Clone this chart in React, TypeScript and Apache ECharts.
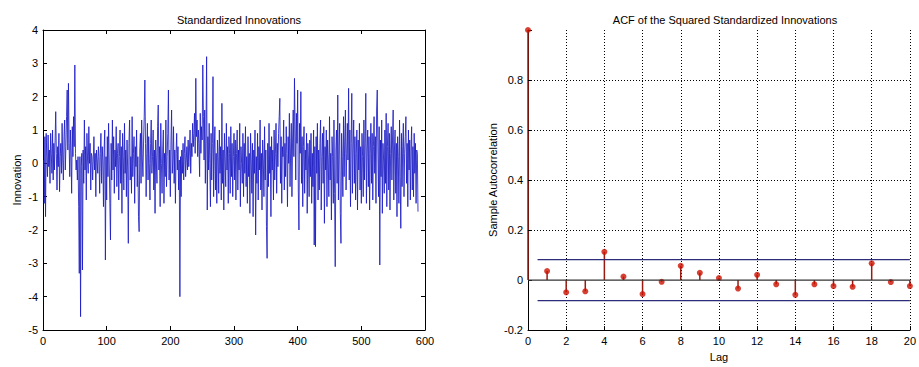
import React, { useEffect, useRef } from "react";
import * as echarts from "echarts";

// Left panel: standardized innovations
const innovations: number[] = [
  0.1, -1.2, 0.8, -1.6, 0.9, 0.2, -0.4, 0.85, -0.1, 0.4, -0.6, 0.9, 0.3, -0.3, 1.0, -0.5, 0.6, -0.2, 0.7, 1.55,
  0.3, -0.8, 0.5, -0.1, 0.9, -0.85, 0.2, 0.6, -0.3, 1.2, 0.1, -0.5, 0.8, 1.3, -0.2, 0.5, 1.4, 2.2, 0.4, 2.4,
  0.6, -0.4, 1.0, 0.3, -0.9, 1.1, 0.2, 1.4, 0.5, 2.95, 0.3, -0.2, 0.1, -0.5, 0.2, -1.3, -3.3, 0.2, -4.6, -0.1,
  0.3, -3.2, 0.4, -0.6, 1.3, -0.2, 0.5, -1.1, 0.9, 0.1, -0.3, 1.1, 0.0, 0.6, -0.8, 0.3, 0.2, -0.5, 0.1, 0.8,
  -0.2, 0.3, -1.0, 0.4, 0.1, -0.3, 0.5, 0.2, -0.9, 0.3, 0.9, -0.6, 0.5, 0.1, -1.3, 0.4, 1.0, -2.9, 0.2, -1.1,
  0.8, -0.4, 1.2, 0.1, -1.2, -2.3, 0.6, -0.5, 1.3, -0.2, 0.8, -0.9, 0.4, -0.1, 1.1, -0.7, 0.3, 0.6, -1.1, 0.2,
  1.0, -0.6, 0.5, -1.5, 0.9, 0.2, -0.8, 1.2, -0.3, 0.4, -1.0, 0.7, -0.2, -2.4, 0.6, 1.3, -0.5, 0.2, -0.9, 1.4,
  -0.4, 0.3, 0.8, -1.2, 0.5, -0.1, 1.0, -0.7, 0.2, -1.6, -2.05, 0.4, 0.9, -0.6, 1.3, 0.1, -0.4, 0.7, 1.4, 2.5,
  0.6, -1.0, 0.3, 1.2, -0.5, 0.8, 0.0, -1.1, 0.6, 1.3, -0.3, 0.2, 1.0, -0.8, 0.4, -1.5, 0.7, 0.1, -0.6, 1.1,
  1.75, -0.2, 0.5, -1.3, 1.2, 0.0, -0.9, 0.4, 1.0, -1.2, 0.3, -0.4, 1.3, -0.7, 0.2, 0.9, 2.2, -0.5, 0.4, -1.0,
  0.7, 1.6, -0.3, 0.1, 1.1, -0.6, 0.4, -1.2, 0.3, 0.9, -0.2, 0.5, -0.8, 0.1, -4.0, 0.2, -1.0, 0.4, -0.3, 0.6,
  -0.5, 0.3, 0.8, -0.4, 0.1, 0.5, -0.2, 0.7, -0.1, 0.4, 1.0, -0.3, 0.6, 0.2, 1.2, 0.5, 0.9, 1.5, 0.3, 2.55,
  0.8, 1.3, 0.2, 1.0, 0.6, -0.4, 1.5, 0.3, 1.1, 0.7, 2.95, 1.4, 0.1, 1.6, -0.6, 0.9, 3.2, -1.4, 0.8, -0.2,
  1.2, 0.0, -1.3, 0.9, -0.5, 0.6, 2.6, -1.0, 0.4, 1.1, -0.8, 0.3, -1.2, 0.7, 0.2, -0.9, 1.0, -0.3, 0.5, -1.1,
  1.8, -0.6, 0.4, -1.4, 0.9, 0.1, -0.7, 1.2, -0.2, 0.5, -1.2, 0.8, 0.3, -0.9, 1.1, -0.4, 0.6, -1.0, 0.2, 0.9,
  -0.5, 0.7, -1.1, 0.3, 1.0, -0.8, 0.4, -0.2, 1.2, -1.3, 0.5, 0.0, -0.6, 0.9, -1.0, 0.6, -0.3, 1.1, -0.7, 0.2,
  -1.2, 0.8, -0.4, 0.3, -1.5, 0.9, 0.1, -0.9, 0.6, -1.6, 0.4, -0.3, 1.0, -2.15, 0.2, -0.6, 0.9, -1.1, 0.5, -0.2,
  1.3, -0.8, 0.3, -1.4, 0.7, 0.1, -1.0, 1.1, -0.5, 0.4, -1.9, -2.85, 0.6, -0.7, 1.2, -0.3, 0.5, -1.6, 0.8, -0.2,
  0.4, -1.1, 1.0, -0.5, 0.3, 1.2, -0.9, 0.6, -0.1, 0.9, 1.4, 1.95, -0.6, 0.8, -1.2, 0.5, 0.2, 1.3, -0.8, 0.6,
  -0.4, 1.1, 0.3, -1.3, 0.8, 0.0, 1.5, -0.7, 0.4, 1.2, -1.0, 0.7, 1.6, 0.2, 2.55, 1.0, -0.5, 1.5, 0.6, 2.2,
  -0.8, -2.0, 1.2, 0.3, 2.15, -0.6, 0.8, -1.3, 0.5, 1.1, -0.9, 0.4, -0.2, 0.9, -1.5, 0.6, 0.1, -1.0, 0.7, -0.4,
  0.9, -1.2, 0.3, -0.7, 1.0, -2.45, 0.5, -2.5, 0.8, -0.3, 1.2, -1.1, 0.4, -0.8, 0.6, 1.3, -1.4, 0.2, 0.9, -0.6,
  1.1, -1.8, 0.5, -0.2, 1.0, -1.3, 0.7, 0.1, -1.0, 1.4, -0.5, 0.3, -1.7, 0.8, 0.2, -1.2, 1.3, -0.9, -3.1, 0.4,
  1.0, -0.6, 2.05, -1.1, 0.5, 1.2, -1.5, -2.4, 0.9, 0.2, -1.0, 1.4, -0.4, 0.7, 1.6, -0.8, 0.3, 1.2, 0.1, 2.25,
  -0.5, 1.0, -1.3, 0.6, 2.1, -0.9, 0.4, 1.3, -0.6, 0.8, -1.1, 0.3, 1.0, -1.4, 0.7, -0.2, 1.2, -0.8, 0.5, -1.2,
  0.9, 0.2, -1.0, 1.3, -0.5, 0.6, 2.1, -1.2, 0.4, 1.0, -0.7, 0.8, -1.4, 0.3, 1.2, -0.6, 0.9, -1.1, 0.5, 1.4,
  -0.3, 0.8, -1.2, 1.6, 2.2, 0.4, -1.0, 1.1, -3.05, 0.7, -0.4, 1.3, -1.5, 0.6, 0.1, -0.9, 1.0, -0.6, 1.5, -1.3,
  0.5, 1.2, -0.8, 0.9, -1.4, 0.3, 1.1, -0.5, 0.7, 1.6, -1.1, 0.4, 1.0, -0.9, 0.6, -1.6, 0.8, 0.2, -1.2, 1.3,
  -0.4, -1.95, 0.9, -0.7, 0.5, 1.2, -1.0, 0.3, 0.8, 1.4, -0.6, 0.6, -1.3, 1.0, -0.2, 0.7, -1.1, 0.4, 1.1, -0.8,
  0.5, -1.0, 0.9, -0.3, 0.6, -1.2, 0.4, 0.3, -1.45,
];

// Right panel: ACF of squared standardized innovations
const lags: number[] = [0, 1, 2, 3, 4, 5, 6, 7, 8, 9, 10, 11, 12, 13, 14, 15, 16, 17, 18, 19, 20];
const acf: number[] = [
  1.0, 0.036, -0.049, -0.045, 0.113, 0.014, -0.056, -0.007, 0.057, 0.029, 0.008,
  -0.034, 0.021, -0.017, -0.059, -0.017, -0.024, -0.027, 0.067, -0.008, -0.024,
];
const boundLevel = 0.082;
const boundStart = 0.5;
const acfGridLevels: number[] = [0.2, 0.4, 0.6, 0.8];

const leftTicksX = { min: 0, max: 600, interval: 100 };
const leftTicksY = { min: -5, max: 4, interval: 1 };
const rightTicksX = { min: 0, max: 20, interval: 2 };
const rightTicksY = { min: -0.2, max: 1.0, interval: 0.2 };

const FONT = "Liberation Sans, Arial, Helvetica, sans-serif";

export default function App() {
  const ref = useRef<HTMLDivElement>(null);

  useEffect(() => {
    if (!ref.current) return;
    const chart = echarts.init(ref.current, undefined, { renderer: "svg" });

    const axisCommon = {
      axisLine: { show: true, onZero: false, lineStyle: { color: "#000", width: 1 } },
      axisTick: { show: true, inside: true, length: 4, lineStyle: { color: "#000" } },
      axisLabel: { color: "#000", fontSize: 11, fontFamily: FONT, margin: 5 },
      splitLine: { show: false },
      nameTextStyle: { color: "#000", fontSize: 11, fontFamily: FONT },
    };

    const option: any = {
      animation: false,
      backgroundColor: "#fff",
      title: [
        {
          text: "Standardized Innovations",
          left: 234,
          top: 9,
          textAlign: "center",
          textStyle: { fontSize: 11, fontWeight: "normal", color: "#000", fontFamily: FONT },
        },
        {
          text: "ACF of the Squared Standardized Innovations",
          left: 720,
          top: 9,
          textAlign: "center",
          textStyle: { fontSize: 11, fontWeight: "normal", color: "#000", fontFamily: FONT },
        },
      ],
      grid: [
        { left: 43, top: 30, width: 382, height: 300, containLabel: false },
        { left: 528, top: 30, width: 385, height: 303, containLabel: false },
      ],
      xAxis: [
        { ...axisCommon, type: "value", gridIndex: 0, ...leftTicksX, position: "bottom" },
        {
          ...axisCommon,
          type: "value",
          gridIndex: 0,
          ...leftTicksX,
          position: "top",
          axisLabel: { show: false },
        },
        {
          ...axisCommon,
          type: "value",
          gridIndex: 1,
          ...rightTicksX,
          position: "bottom",
          name: "Lag",
          nameLocation: "middle",
          nameGap: 20,
          splitLine: { show: true, lineStyle: { color: "#000", type: [1, 2], width: 1 } },
        },
      ],
      yAxis: [
        {
          ...axisCommon,
          type: "value",
          gridIndex: 0,
          ...leftTicksY,
          position: "left",
          name: "Innovation",
          nameLocation: "middle",
          nameGap: 21,
        },
        {
          ...axisCommon,
          type: "value",
          gridIndex: 0,
          ...leftTicksY,
          position: "right",
          axisLabel: { show: false },
        },
        {
          ...axisCommon,
          type: "value",
          gridIndex: 1,
          ...rightTicksY,
          position: "left",
          name: "Sample Autocorrelation",
          nameLocation: "middle",
          nameGap: 30,
          axisLabel: {
            ...axisCommon.axisLabel,
            formatter: (v: number) => (Math.abs(v - 1) < 1e-6 ? "" : String(Math.round(v * 10) / 10)),
          },
        },
      ],
      series: [
        {
          type: "line",
          xAxisIndex: 0,
          yAxisIndex: 0,
          data: innovations.map((v, i) => [i + 1, v]),
          showSymbol: false,
          lineStyle: { color: "#1c1cc4", width: 0.85 },
          silent: true,
        },
        {
          type: "bar",
          xAxisIndex: 2,
          yAxisIndex: 2,
          data: lags.map((l, i) => [l, acf[i]]),
          barWidth: 1.5,
          itemStyle: { color: "#9a1a10" },
          silent: true,
          markLine: {
            silent: true,
            symbol: "none",
            label: { show: false },
            lineStyle: { color: "#000", type: [1, 2], width: 1 },
            data: acfGridLevels.map((g) => ({ yAxis: g })),
          },
        },
        {
          type: "line",
          xAxisIndex: 2,
          yAxisIndex: 2,
          data: [
            [lags[0], 0],
            [lags[lags.length - 1], 0],
          ],
          showSymbol: false,
          lineStyle: { color: "#333", width: 1.2 },
          silent: true,
        },
        {
          type: "line",
          xAxisIndex: 2,
          yAxisIndex: 2,
          data: [
            [boundStart, boundLevel],
            [lags[lags.length - 1], boundLevel],
          ],
          showSymbol: false,
          lineStyle: { color: "#2c2c7a", width: 1.2 },
          silent: true,
        },
        {
          type: "line",
          xAxisIndex: 2,
          yAxisIndex: 2,
          data: [
            [boundStart, -boundLevel],
            [lags[lags.length - 1], -boundLevel],
          ],
          showSymbol: false,
          lineStyle: { color: "#2c2c7a", width: 1.2 },
          silent: true,
        },
        {
          type: "scatter",
          xAxisIndex: 2,
          yAxisIndex: 2,
          data: lags.map((l, i) => [l, acf[i]]),
          symbolSize: 6,
          itemStyle: { color: "#cc1100" },
          silent: true,
          clip: false,
        },
      ],
    };

    chart.setOption(option);
    return () => chart.dispose();
  }, []);

  return (
    <div
      ref={ref}
      style={{ position: "fixed", left: 0, top: 0, width: 919, height: 367, background: "#fff" }}
    />
  );
}
